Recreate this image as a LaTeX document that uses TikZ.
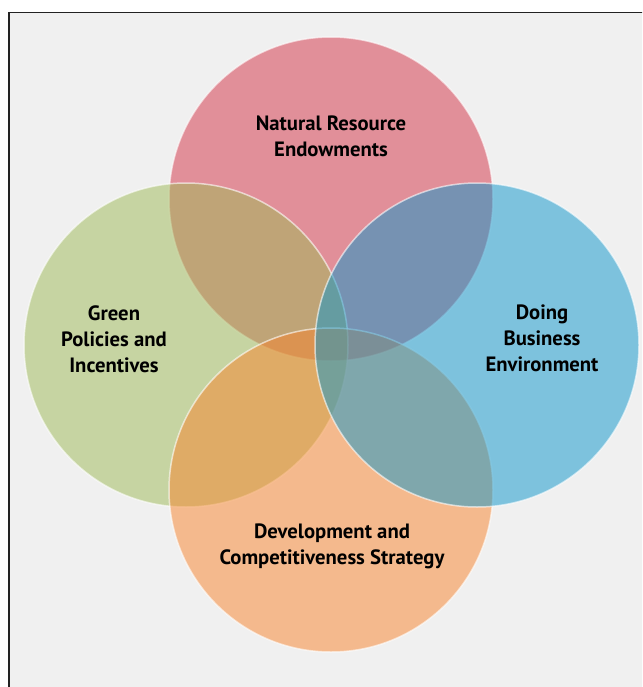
\documentclass[tikz,border=0pt]{standalone}
\usepackage{fontspec}
\setmainfont{PT Sans}
\definecolor{cred}{RGB}{212,48,68}
\definecolor{cgreen}{RGB}{158,186,86}
\definecolor{cblue}{RGB}{12,150,204}
\definecolor{corange}{RGB}{248,132,44}
\definecolor{bggray}{RGB}{240,240,240}
\definecolor{framec}{RGB}{34,34,34}
\begin{document}
\begin{tikzpicture}[x=1pt,y=-1pt,
  venn/.style={circle, minimum size=324pt, inner sep=0pt, fill opacity=0.5, draw=white, draw opacity=0.6, line width=1.5pt},
  lbl/.style={align=center, font=\bfseries\fontsize{20.7}{26}\selectfont, text=black}]
\useasboundingbox (0,0) rectangle (642,687);
\fill[white] (0,0) rectangle (642,687);
\begin{scope}
\clip (0,0) rectangle (642,687);
\draw[framec, line width=1.6pt, fill=bggray] (9,12.5) rectangle (660,700);
\end{scope}
\node[venn, fill=cred] (res) at (331,199) {};
\node[venn, fill=cgreen] (pol) at (186,345) {};
\node[venn, fill=corange] (dev) at (331,490) {};
\node[venn, fill=cblue] (bus) at (477,345) {};
\node[lbl] (tres) at (331,136) {Natural Resource\\Endowments};
\node[lbl] (tpol) at (114,339) {Green\\Policies and\\Incentives};
\node[lbl] (tbus) at (542,338) {Doing\\Business\\Environment};
\node[lbl] (tdev) at (332,546) {Development and\\Competitiveness Strategy};
\end{tikzpicture}
\end{document}
